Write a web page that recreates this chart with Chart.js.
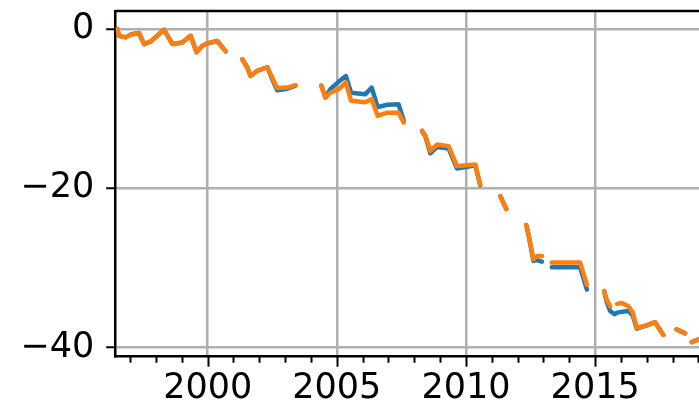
<!DOCTYPE html>
<html>
<head>
<meta charset="utf-8">
<script src="https://cdn.jsdelivr.net/npm/chart.js@4"></script>
<style>
  html, body { margin: 0; padding: 0; background: #fff; overflow: hidden; }
  canvas { display: block; }
</style>
</head>
<body>
<canvas id="chart" width="699" height="410"></canvas>
<script>
// decimal years, null marks a gap in the record
const years = [
    1996.50, 1996.57, 1996.83, 1997.02, 1997.34, 1997.54, 1997.80, 1998.31, 1998.64, 1999.02, 1999.34, 1999.57, 1999.80, 1999.99, 2000.37, 2000.70, 2001.00,
    2001.34, 2001.53, 2001.66, 2001.92, 2002.31, 2002.50, 2002.69, 2003.08, 2003.40, 2003.90,
    2004.40, 2004.56, 2004.75, 2005.08, 2005.35, 2005.55, 2006.10, 2006.35, 2006.58, 2006.95, 2007.39, 2007.59, 2008.00,
    2008.30, 2008.43, 2008.62, 2008.88, 2009.33, 2009.65, 2010.04, 2010.36, 2010.55, 2010.90,
    2011.33, 2011.56, 2011.90,
    2012.33, 2012.42, 2012.61, 2012.75, 2012.94, 2013.10,
    2013.32, 2014.42, 2014.68, 2015.00,
    2015.35, 2015.45, 2015.58, 2015.75, 2015.85, 2016.03, 2016.29, 2016.46, 2016.61, 2017.00, 2017.32, 2017.64, 2017.90,
    2018.15, 2018.48, 2018.60,
    2018.74, 2019.05
];
const seriesBlue = [
    0, -0.85, -1.05, -0.7, -0.5, -1.9, -1.55, -0.1, -1.9, -1.7, -0.85, -2.9, -2.1, -1.8, -1.5, -2.8, null,
    -3.8, -4.8, -5.9, -5.25, -4.8, -6.3, -7.7, -7.5, -7.1, null,
    -7.1, -8.6, -7.55, -6.6, -5.9, -8.0, -8.2, -7.35, -9.8, -9.5, -9.45, -11.5, null,
    -12.8, -13.5, -15.6, -14.8, -15.0, -17.5, -17.3, -17.1, -19.6, null,
    -21.0, -22.6, null,
    -24.6, -25.8, -29.1, -29.0, -29.2, null,
    -29.9, -29.9, -32.7, null,
    -32.9, -34.3, -35.4, -35.8, -35.6, -35.5, -35.4, -36.0, -37.6, -37.2, -36.8, -38.4, null,
    -37.7, -38.2, null,
    -39.3, -38.9
];
const seriesOrange = [
    0, -0.85, -1.05, -0.7, -0.5, -1.9, -1.55, -0.1, -1.9, -1.7, -0.85, -2.9, -2.1, -1.8, -1.5, -2.8, null,
    -3.8, -4.8, -5.9, -5.25, -4.8, -6.1, -7.4, -7.35, -7.05, null,
    -7.1, -8.6, -8.0, -7.55, -6.7, -9.0, -9.2, -8.8, -10.9, -10.5, -10.5, -11.75, null,
    -12.8, -13.4, -15.3, -14.5, -14.7, -17.2, -17.1, -17.0, -19.5, null,
    -21.0, -22.6, null,
    -24.6, -25.8, -28.9, -28.5, -28.5, null,
    -29.3, -29.3, -32.1, null,
    -32.9, -34.0, -34.8, null, -34.5, -34.4, -34.8, -35.6, -37.5, -37.2, -36.8, -38.4, null,
    -37.7, -38.2, null,
    -39.3, -38.9
];
const xMajorTicks = [2000, 2005, 2010, 2015];
const yTicks = [0, -20, -40];

const FONT = { family: 'DejaVu Sans', size: 35 };

// top spine + x tick marks (major and minor), drawn like matplotlib
const framePlugin = {
    id: 'frame',
    afterDraw(chart) {
        const ctx = chart.ctx;
        const area = chart.chartArea;
        const xs = chart.scales.x;
        ctx.save();
        ctx.strokeStyle = '#000';
        ctx.lineWidth = 2.5;
        ctx.beginPath();
        ctx.moveTo(area.left, area.top);
        ctx.lineTo(area.right + 2, area.top);
        ctx.stroke();
        ctx.lineWidth = 2;
        for (let yr = Math.ceil(xs.min); yr <= Math.floor(xs.max); yr++) {
            const px = Math.round(xs.getPixelForValue(yr)) + 0.5;
            const len = xMajorTicks.includes(yr) ? 10 : 6;
            ctx.beginPath();
            ctx.moveTo(px, area.bottom);
            ctx.lineTo(px, area.bottom + len);
            ctx.stroke();
        }
        ctx.restore();
    }
};

new Chart(document.getElementById('chart'), {
    type: 'line',
    data: {
        datasets: [
            {
                label: 'orange',
                data: years.map((x, i) => ({ x: x, y: seriesOrange[i] })),
                borderColor: '#ff7f0e',
                order: 0
            },
            {
                label: 'blue',
                data: years.map((x, i) => ({ x: x, y: seriesBlue[i] })),
                borderColor: '#1f77b4',
                order: 1
            }
        ]
    },
    options: {
        responsive: false,
        animation: false,
        spanGaps: false,
        layout: { padding: { left: 0, right: 0, top: 11, bottom: 0 } },
        elements: {
            point: { radius: 0 },
            line: { borderWidth: 4.5, tension: 0, borderJoinStyle: 'round', borderCapStyle: 'round' }
        },
        plugins: {
            legend: { display: false },
            tooltip: { enabled: false }
        },
        scales: {
            x: {
                type: 'linear',
                min: 1996.44,
                max: 2019.02,
                ticks: {
                    stepSize: 1,
                    autoSkip: false,
                    includeBounds: false,
                    maxRotation: 0,
                    color: '#000',
                    font: FONT,
                    padding: 1,
                    callback: v => xMajorTicks.includes(v) ? String(v) : ''
                },
                grid: {
                    color: c => xMajorTicks.includes(c.tick && c.tick.value) ? '#b0b0b0' : 'rgba(0,0,0,0)',
                    lineWidth: 2.5,
                    tickColor: 'rgba(0,0,0,0)',
                    tickLength: 10
                },
                border: { color: '#000', width: 2.5 },
                afterFit(scale) {
                    scale.height = 53.3;
                    scale.paddingLeft = 0;
                    scale.paddingRight = 0;
                }
            },
            y: {
                type: 'linear',
                min: -41.13,
                max: 2.26,
                afterBuildTicks(scale) {
                    scale.ticks = yTicks.map(v => ({ value: v }));
                },
                ticks: {
                    color: '#000',
                    font: FONT,
                    padding: 12,
                    callback: v => v < 0 ? '\u2212' + Math.abs(v) : String(v)
                },
                grid: {
                    color: '#b0b0b0',
                    lineWidth: 2.5,
                    tickColor: '#000',
                    tickWidth: 2,
                    tickLength: 9.5
                },
                border: { color: '#000', width: 2.5 },
                afterFit(scale) {
                    scale.width = 115.7;
                    scale.paddingTop = 0;
                    scale.paddingBottom = 0;
                }
            }
        }
    },
    plugins: [framePlugin]
});
</script>
</body>
</html>
